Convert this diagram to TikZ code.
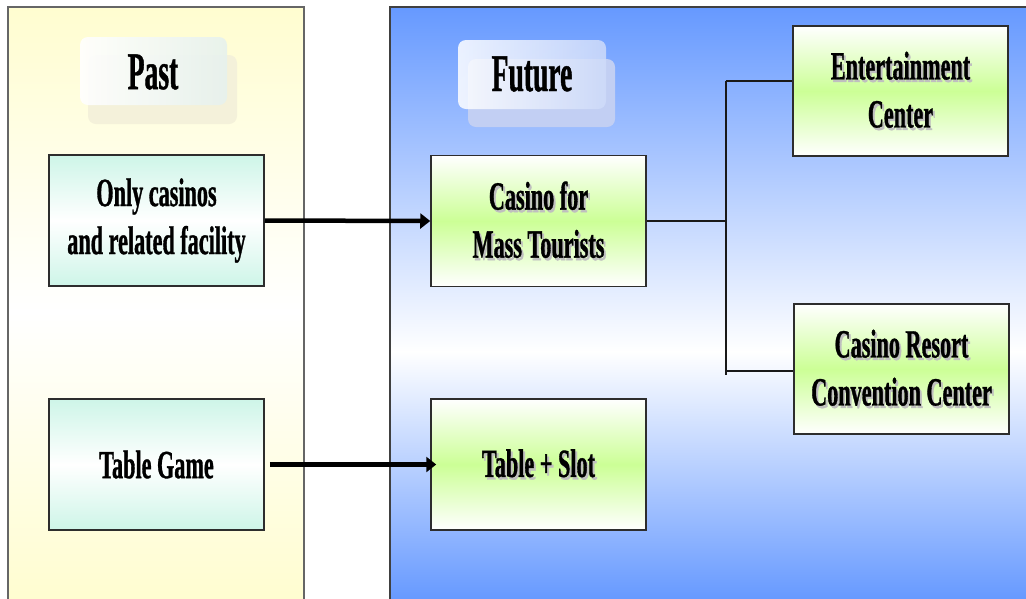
\documentclass[tikz,border=0pt]{standalone}
\usepackage{fontspec}
\usetikzlibrary{arrows.meta}
\newfontfamily\hdfont{Liberation Serif}[FakeStretch=0.52, FakeBold=0.8]
\newfontfamily\bxfont{Liberation Serif}[FakeStretch=0.555, FakeBold=0.8]
% soft grey drop shadow behind a line of text
\newcommand\shd[1]{\leavevmode\rlap{\hspace{2pt}\raisebox{-2.5pt}{\color{black!25}#1}}#1}
\definecolor{pastyellow}{RGB}{255,253,208}
\definecolor{futblue}{RGB}{102,153,255}
\definecolor{mint}{RGB}{206,245,232}
\definecolor{lgreen}{RGB}{204,255,150}
\definecolor{edge}{RGB}{45,45,45}
\definecolor{pastback}{RGB}{244,241,218}
\definecolor{pastfront}{RGB}{230,241,237}
\definecolor{futback}{RGB}{194,207,243}
\definecolor{futfront}{RGB}{206,219,250}
\tikzset{
  box/.style={draw=edge, line width=1.5pt, minimum width=215pt, minimum height=131pt,
    inner sep=0pt, align=center, font=\bxfont\bfseries\fontsize{40}{48}\selectfont},
  mintbox/.style={box, top color=mint, bottom color=mint, middle color=white},
  greenbox/.style={box, top color=white, bottom color=white, middle color=lgreen},
  heading/.style={inner sep=0pt, font=\hdfont\bfseries\fontsize{53}{58}\selectfont},
  plate/.style={rounded corners=8pt},
  flow/.style={line width=4.5pt, -{Triangle[length=10pt,width=15pt]}},
  link/.style={line width=1.8pt, draw=black!90},
}
\begin{document}
\begin{tikzpicture}[x=1pt,y=-1pt]
  \fill[white] (0,0) rectangle (1026,598);
  \useasboundingbox (0,0) rectangle (1026,598);
  \begin{scope}
    \clip (0,0) rectangle (1026,598);
    % Past panel
    \fill[top color=pastyellow, bottom color=white] (8,7) rectangle (304,312);
    \fill[top color=white, bottom color=pastyellow] (8,311) rectangle (304,600);
    \draw[black!60, line width=1.3pt] (8,610) -- (8,7) -- (304,7) -- (304,610);
    % Future panel
    \fill[top color=futblue, bottom color=white] (390,7) rectangle (1030,352);
    \fill[top color=white, bottom color=futblue] (390,351) rectangle (1030,600);
    \draw[black!75, line width=1.3pt] (390,610) -- (390,7) -- (1030,7);
  \end{scope}

  % heading plates
  \fill[plate, pastback] (88,55) rectangle (237,124);
  \shade[plate, left color=white, right color=pastfront, fill opacity=0.9] (80,37) rectangle (227,105);
  \fill[plate, futback] (468,59) rectangle (615,127);
  \shade[plate, left color=white, right color=futfront, fill opacity=0.85] (458,40) rectangle (606,109);
  \node[heading] (past) at (153,72) {Past};
  \node[heading] (future) at (532,74) {Future};

  % boxes
  \node[mintbox] (oc) at (156.5,220.5) {Only casinos\\and related facility};
  \node[mintbox] (tg) at (156.5,464.5) {Table Game};
  \node[greenbox] (cm) at (538.5,221) {\shd{Casino for}\\\shd{Mass Tourists}};
  \node[greenbox] (ts) at (538.5,464.5) {\shd{Table + Slot}};
  \node[greenbox, minimum height=130pt] (ent) at (900.5,91) {\shd{Entertainment}\\\shd{Center}};
  \node[greenbox, minimum height=130pt] (cr) at (901.5,369) {\shd{Casino Resort}\\\shd{Convention Center}};

  % transitions
  \draw[flow] (oc.east) -- (cm.west);
  \draw[flow, shorten <=5pt, shorten >=-6pt] (tg.east) -- (ts.west);

  % branches
  \coordinate (jt) at (726,81);
  \coordinate (jb) at (726,371);
  \coordinate (jend) at (726,375);
  \draw[link] (cm.east) -- (cm.east -| jt);
  \draw[link] (jt) -- (jend);
  \draw[link] (jt) -- (jt -| ent.west);
  \draw[link] (jb) -- (jb -| cr.west);
\end{tikzpicture}
\end{document}
